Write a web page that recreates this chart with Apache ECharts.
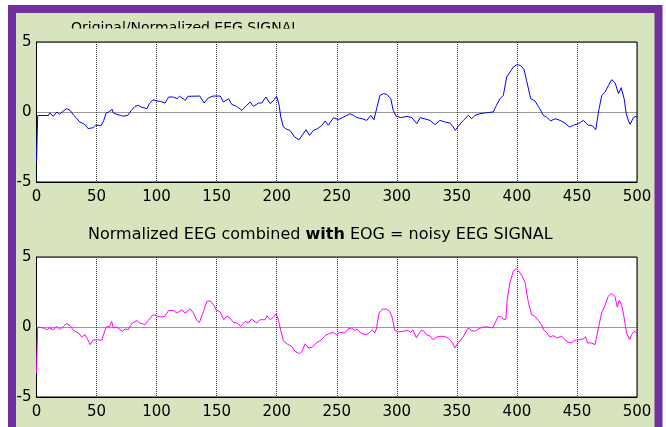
<!DOCTYPE html>
<html>
<head>
<meta charset="utf-8">
<script src="https://cdn.jsdelivr.net/npm/echarts@6/dist/echarts.min.js"></script>
<style>html,body{margin:0;padding:0;background:#fff}#c{width:666px;height:427px}</style>
</head>
<body>
<div id="c"></div>
<script>
// Tick settings
const xTickStep = 50;
const yTickStep = 5;

// Top panel: Original/Normalized EEG signal (sample index, value)
const eegX = [0,1,10,11,14,17,19,22,25,28,31,33,36,39,41,43,44,47,49,54,56,58,60,63,64,67,70,72,76,79,82,85,87,92,94,97,100,103,107,110,114,117,119,122,124,126,136,139.5,143,147,153,155.6,160,162.5,166.7,171,175,178,180.6,184.8,187.5,191,194.5,197,200,202,203.4,205.6,208.4,211,215,218.7,221.7,224.5,227.3,230.6,234,237.6,240.3,243,247.3,251.4,255.6,258.4,261,264,266.7,271,275,278.4,281,283.4,286,289,291.7,295,297,299.5,304,308.4,312.5,316.7,319.5,323.6,327.7,331.8,336,340,344.3,347,348.7,351.2,355.4,359.6,362.4,365,369.3,374.8,380.4,383,386,388.7,391.5,394.3,397,399.9,403,406,408,411.5,415,419,422,424.8,428,431.8,436,440,443.7,447,451.2,455.4,457.4,459.6,462.4,465.7,467.9,470.7,473.5,476.2,479,481.8,484.6,486.8,489.3,491,493,494.3,497,499.3,500];
const eegY = [-3.6,-0.25,-0.25,-0.07,-0.3,0,-0.17,0.05,0.24,0.12,-0.24,-0.4,-0.71,-0.83,-0.95,-1.19,-1.31,-1.12,-0.95,-0.95,-0.6,-0.07,0,0.19,-0.07,-0.17,-0.24,-0.3,-0.24,0.12,0.4,0.48,0.36,0.24,0.6,0.88,0.79,0.76,0.64,1.07,1.07,0.95,1.12,0.95,0.83,1.12,1.14,0.64,1.0,1.14,1.14,0.71,0.95,0.55,0.4,0.12,0.48,0.71,0.4,0.64,0.64,1.07,0.6,0.79,1.12,0.48,-0.36,-1.07,-1.24,-1.31,-1.79,-1.98,-1.6,-1.26,-1.67,-1.31,-1.19,-0.95,-0.64,-0.95,-0.4,-0.55,-0.36,-0.24,-0.12,-0.24,-0.4,-0.48,-0.6,-0.24,-0.55,0.31,1.19,1.31,1.26,0.95,0.12,-0.31,-0.4,-0.31,-0.4,-0.83,-0.4,-0.5,-0.6,-0.9,-0.6,-0.71,-0.79,-1.07,-1.31,-1.02,-0.6,-0.24,-0.48,-0.24,-0.12,-0.05,0,0.48,0.95,1.19,2.5,2.86,3.21,3.38,3.33,3.02,2.26,0.95,0.79,0.24,-0.24,-0.36,-0.64,-0.48,-0.6,-0.79,-1.07,-0.95,-0.83,-0.6,-0.79,-0.95,-0.95,-1.26,0,1.19,1.43,1.9,2.31,2.07,1.31,1.74,0.95,-0.12,-0.64,-0.88,-0.4,-0.31,-0.4];

// Bottom panel: Normalized EEG combined with EOG (sample index, value)
const noisyX = [0,1,5.7,8.5,11,14,16.8,19.6,22.4,25,28,30.7,35,37.6,40.4,42.4,44.6,46.8,48.8,54.3,56.3,58,61,62.6,64,66.8,69.6,71.5,73.8,76.5,79.3,83.5,86,90.4,93,97,100,103,107,110,114,116.8,121,123.8,128,130.7,133.5,135.7,139,141.8,144.6,147.4,149.6,153,156,158.5,161,164,167,170,173.7,176.5,179,183.5,186,190.4,191.8,194.6,197.4,199.6,201.5,203.5,205.7,208.5,212.6,215.4,219,221,223.7,226.5,229.3,233.5,236,239,240.4,243,247,249.7,252.5,256.6,259.4,262.2,265,267,270.5,274.7,277.5,279.7,281.6,283,285.2,288,291.3,294.1,296.3,298.3,301,305.2,309.4,311.3,313.6,316.3,319.7,321.9,324.7,327.5,330.2,333.6,337.2,340.8,344.1,346.3,348.3,351,355.2,359.4,362.2,365,367.7,371.9,376,379.7,381.6,384.4,387.2,389.1,390.8,391.9,394.1,396.9,399.7,401.1,403.8,406.6,409.4,412.2,415,417.7,420.5,422.5,424.7,427.5,430.2,433.6,437.2,440,442.7,445.5,448.3,452.5,455.2,457.2,458.8,462.2,465,466.3,467.7,470.5,473.3,476,478.8,481.6,483.6,485.2,487.2,489.1,491.3,494.1,495.5,497.4,498.8,500];
const noisyY = [-3.32,0,-0.07,-0.19,-0.07,-0.19,0.05,-0.19,0.05,0.24,0.1,-0.24,-0.43,-0.71,-0.55,-0.85,-1.26,-0.95,-0.9,-0.95,-0.43,0,0.05,0.4,-0.07,0,-0.19,-0.31,-0.14,-0.19,0.24,0.47,0.28,0.17,0.47,0.88,0.8,0.71,0.76,1.18,1.18,1.0,1.23,1.0,1.3,1.0,0.47,0.33,1.11,1.82,1.87,1.59,1.23,1.07,0.52,0.8,0.64,0.33,0.28,0.05,0.4,0.28,0.57,0.28,0.52,0.52,0.8,0.52,0.71,0.95,0.47,-0.31,-1.0,-1.2,-1.4,-1.75,-1.9,-1.75,-1.2,-1.5,-1.45,-1.1,-1.0,-0.75,-0.6,-0.5,-0.38,-0.55,-0.38,-0.43,-0.14,-0.07,-0.24,-0.14,-0.47,-0.55,-0.38,-0.19,-0.43,-0.14,1.0,1.28,1.28,1.11,0.64,-0.24,-0.36,-0.31,-0.24,-0.38,-0.24,-0.78,-0.31,-0.24,-0.55,-0.62,-0.9,-0.71,-0.66,-0.71,-0.9,-1.14,-1.49,-1.14,-0.71,-0.07,-0.24,-0.31,-0.14,0,0,-0.07,0.24,0.76,0.71,0.52,0.57,1.94,3.13,3.96,4.19,4.12,3.72,3.25,1.82,0.88,0.76,0.47,0.17,-0.24,-0.38,-0.71,-0.62,-0.78,-0.66,-0.9,-1.09,-1.14,-0.95,-0.9,-0.85,-0.71,-1.14,-1.14,-1.26,-1.37,-0.14,1.0,1.52,2.18,2.42,2.18,1.42,1.9,1.59,0.76,-0.43,-0.9,-0.55,-0.31,-0.24,-0.43];

const topTitle = 'Original/Normalized EEG SIGNAL';
const botTitleParts = ['Normalized EEG combined ', 'with', ' EOG = noisy EEG SIGNAL'];

const pairs = (xs, ys) => xs.map((x, i) => [x, ys[i]]);
const FONT = 'DejaVu Sans';

function xAxis(gi) {
  return {
    type: 'value', gridIndex: gi, min: 0, max: 500, interval: xTickStep,
    axisLine: { show: true, onZero: false, lineStyle: { color: '#000', width: 1 } },
    axisTick: { show: false },
    axisLabel: { color: '#000', fontSize: 15, fontFamily: FONT, margin: 8 },
    splitLine: { show: true, lineStyle: { type: 'dotted', color: '#333', width: 1 } }
  };
}
function yAxis(gi) {
  return {
    type: 'value', gridIndex: gi, min: -5, max: 5, interval: yTickStep,
    axisLine: { show: true, onZero: false, lineStyle: { color: '#000', width: 1 } },
    axisTick: { show: false },
    axisLabel: { color: '#000', fontSize: 15, fontFamily: FONT, margin: 5 },
    splitLine: { show: true, lineStyle: { type: 'dotted', color: '#333', width: 1 } }
  };
}

const chart = echarts.init(document.getElementById('c'), null, { renderer: 'canvas' });
chart.setOption({
  backgroundColor: '#ffffff',
  animation: false,
  title: [
    {
      text: topTitle, left: 66, top: 16,
      textStyle: { fontFamily: FONT, fontSize: 14, fontWeight: 'normal', color: '#000' },
      z: 5
    },
    {
      text: '{a|' + botTitleParts[0] + '}{b|' + botTitleParts[1] + '}{a|' + botTitleParts[2] + '}',
      left: 83, top: 222,
      textStyle: {
        fontFamily: FONT, fontSize: 16, color: '#000',
        rich: {
          a: { fontFamily: FONT, fontSize: 16, fontWeight: 'normal', color: '#000' },
          b: { fontFamily: FONT, fontSize: 16, fontWeight: 'bold', color: '#000' }
        }
      }
    }
  ],
  graphic: [
    {
      type: 'rect', z: -10, silent: true,
      shape: { x: 12, y: 9, width: 646.5, height: 440 },
      style: { fill: '#d7e4bd', stroke: '#7030a0', lineWidth: 8 }
    },
    {
      type: 'rect', z: 100, silent: true,
      shape: { x: 60, y: 28.5, width: 260, height: 12.5 },
      style: { fill: '#d7e4bd' }
    }
  ],
  grid: [
    { left: 36.5, top: 42, width: 600.5, height: 140, show: true, backgroundColor: '#fff', borderColor: '#000', borderWidth: 1, containLabel: false },
    { left: 36.5, top: 257, width: 600.5, height: 140, show: true, backgroundColor: '#fff', borderColor: '#000', borderWidth: 1, containLabel: false }
  ],
  xAxis: [xAxis(0), xAxis(1)],
  yAxis: [yAxis(0), yAxis(1)],
  series: [
    {
      type: 'line', xAxisIndex: 0, yAxisIndex: 0, data: pairs(eegX, eegY),
      showSymbol: false, symbol: 'none', lineStyle: { color: '#0000ff', width: 1 }, z: 3
    },
    {
      type: 'line', xAxisIndex: 1, yAxisIndex: 1, data: pairs(noisyX, noisyY),
      showSymbol: false, symbol: 'none', lineStyle: { color: '#ff00ff', width: 1 }, z: 3
    }
  ]
});
</script>
</body>
</html>
